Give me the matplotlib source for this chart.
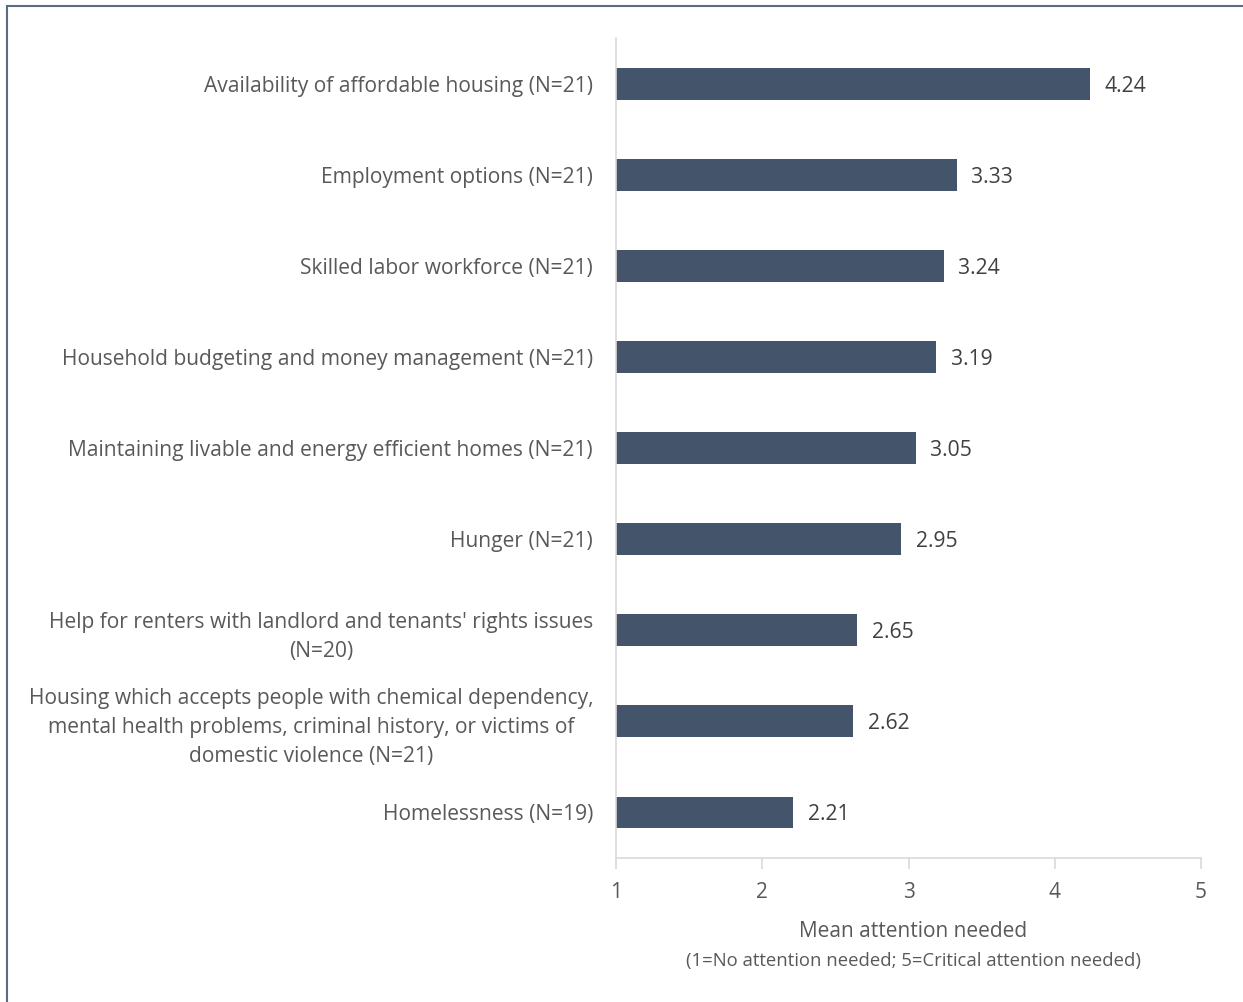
import matplotlib.pyplot as plt
from matplotlib.patches import Rectangle

categories = [
    "Availability of affordable housing (N=21)",
    "Employment options (N=21)",
    "Skilled labor workforce (N=21)",
    "Household budgeting and money management (N=21)",
    "Maintaining livable and energy efficient homes (N=21)",
    "Hunger (N=21)",
    "Help for renters with landlord and tenants' rights issues\n(N=20)",
    "Housing which accepts people with chemical dependency,\nmental health problems, criminal history, or victims of\ndomestic violence (N=21)",
    "Homelessness (N=19)",
]
means = [4.24, 3.33, 3.24, 3.19, 3.05, 2.95, 2.65, 2.62, 2.21]
x_ticks = [1, 2, 3, 4, 5]

BAR = '#44546a'
TEXT = '#595959'
GRID = '#d9d9d9'

plt.rcParams['font.family'] = ['Open Sans', 'DejaVu Sans']


def main():
    fig = plt.figure(figsize=(12.43, 10.02), dpi=100)
    ax = fig.add_axes([0.4956, 0.1437, 0.4706, 0.8183])

    pos = list(range(len(categories)))
    base = x_ticks[0]
    ax.barh(pos, [m - base for m in means], left=base, height=0.35,
            color=BAR, edgecolor='none')
    for p, m in zip(pos, means):
        ax.text(m + 0.1, p, f'{m:.2f}', va='center_baseline', ha='left',
                fontsize=15.2, color='#404040')

    ax.set_xlim(1, 5)
    ax.set_ylim(len(categories) - 0.5, -0.5)
    ax.set_xticks(x_ticks)
    ax.set_yticks(pos)
    ax.set_yticklabels(categories, fontsize=15.1, color=TEXT,
                       multialignment='center', linespacing=1.5)
    for lbl in ax.get_yticklabels():
        lbl.set_y(lbl.get_position()[1])
    ax.tick_params(axis='y', length=0, pad=16.5)
    ax.tick_params(axis='x', length=8, width=1.2, color=GRID,
                   labelsize=15, labelcolor=TEXT, pad=9)

    for s in ['top', 'right']:
        ax.spines[s].set_visible(False)
    for s in ['left', 'bottom']:
        ax.spines[s].set_color(GRID)
        ax.spines[s].set_linewidth(1.2)

    ax.set_xlabel('Mean attention needed', fontsize=15, color=TEXT,
                  labelpad=13)
    ax.xaxis.label.set_x(0.508)
    fig.text(0.735, 0.041, '(1=No attention needed; 5=Critical attention needed)',
             ha='center', va='center', fontsize=13.3, color=TEXT)

    # outer frame, cut by the image edge on the right and bottom
    fig.patches.append(Rectangle((0.0058, -0.01), 1.2, 1.004,
                                 transform=fig.transFigure, fill=False,
                                 edgecolor='#5b6b80', linewidth=1.5))

    fig.savefig('out.png', dpi=100, facecolor='white')


if __name__ == '__main__':
    main()
